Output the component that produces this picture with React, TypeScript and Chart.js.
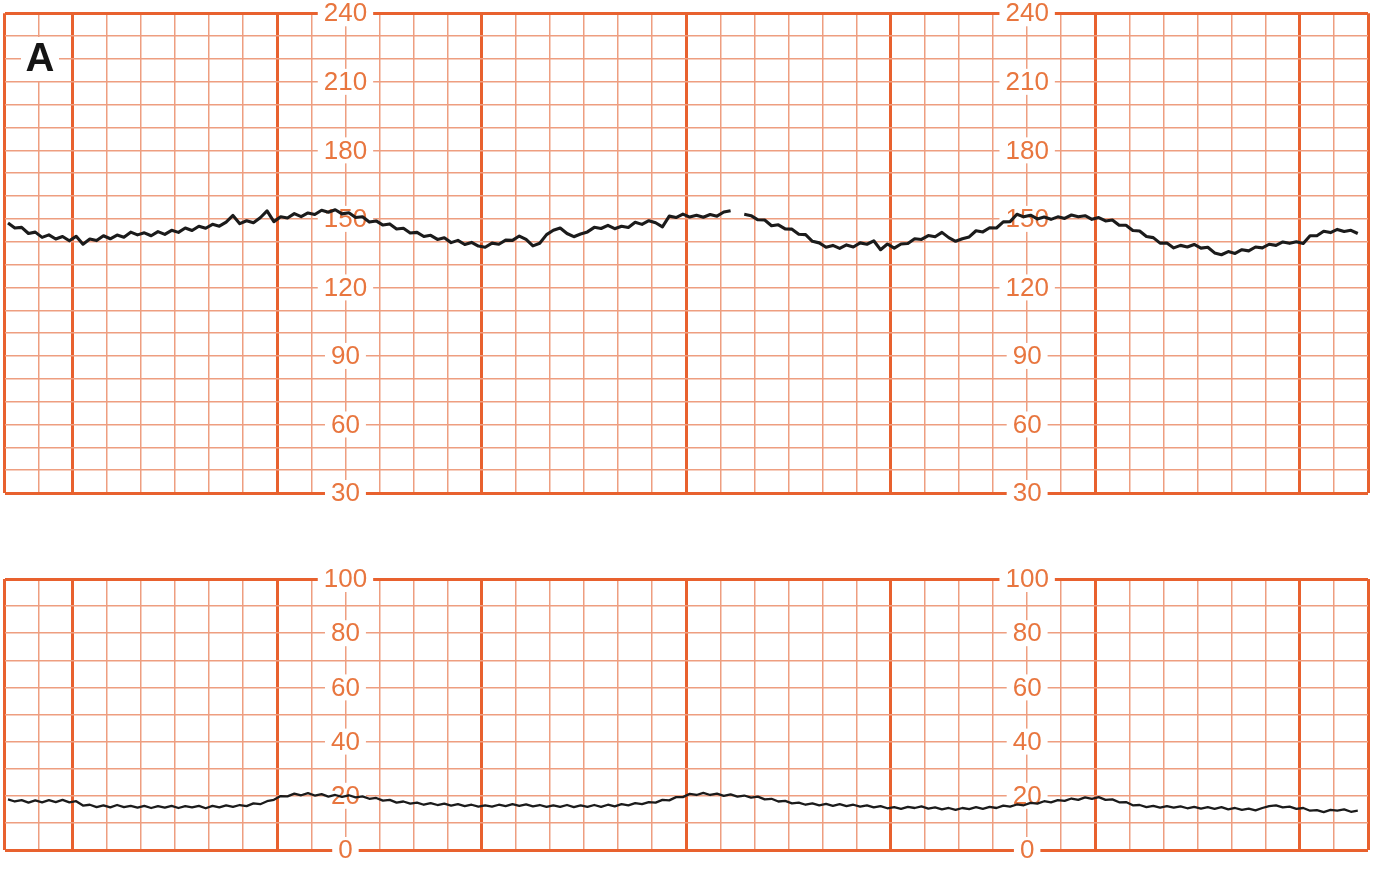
import React, { useEffect, useRef } from "react";
import { Chart, registerables } from "chart.js";

Chart.register(...registerables);

// time axis in seconds; minor grid every 10 s, major every 60 s (offset 20 s)
const TIME_MIN = 0;
const TIME_MAX = 400;
const MINOR_STEP = 10;
const MAJOR_EVERY = 60;
const MAJOR_OFFSET = 20;

const SAMPLE_START = 1;
const SAMPLE_STEP = 2;

// Fetal heart rate (bpm), one sample every 2 s; null = signal loss
const FHR_VALUES: (number | null)[] = [
  148.2, 146.0, 146.3, 143.6, 144.2, 141.9, 143.0, 141.2, 142.3, 140.4,
  142.4, 138.9, 141.2, 140.5, 142.6, 141.3, 142.9, 142.0, 144.2, 143.0,
  143.9, 142.6, 144.4, 143.2, 145.0, 144.1, 146.0, 144.9, 146.8, 145.9,
  147.6, 146.8, 148.6, 151.5, 147.9, 149.2, 148.3, 150.5, 153.5, 148.8,
  150.9, 150.4, 152.3, 151.0, 152.6, 151.9, 153.8, 152.9, 154.0, 152.2,
  152.7, 150.6, 150.9, 148.6, 149.1, 147.3, 147.8, 145.6, 145.9, 143.8,
  144.1, 142.3, 142.8, 141.0, 141.7, 139.6, 140.6, 138.8, 139.7, 138.1,
  137.6, 139.4, 138.9, 140.7, 140.6, 142.5, 141.0, 138.2, 139.3, 143.1,
  145.0, 146.0, 143.6, 142.2, 143.4, 144.3, 146.3, 145.8, 147.2, 145.7,
  146.8, 146.2, 148.5, 147.6, 149.2, 148.3, 146.5, 151.2, 150.6, 152.1,
  150.8, 151.6, 150.7, 151.9, 151.2, 153.0, 153.6, null, 152.0, 151.4,
  149.6, 149.5, 147.0, 147.4, 145.6, 145.5, 143.3, 143.1, 140.2, 139.5,
  137.6, 138.4, 137.1, 138.6, 137.7, 139.5, 138.9, 140.4, 136.5, 139.0,
  137.2, 139.0, 139.2, 141.3, 141.0, 142.7, 142.2, 144.1, 141.8, 140.2,
  141.3, 142.1, 144.8, 144.3, 146.1, 146.0, 148.7, 148.8, 152.0, 150.9,
  151.6, 150.0, 150.8, 149.8, 150.9, 150.2, 151.7, 150.9, 151.4, 149.8,
  150.6, 149.1, 149.5, 147.2, 147.2, 144.9, 144.7, 142.3, 141.8, 139.4,
  139.4, 137.3, 138.4, 137.7, 138.8, 137.2, 137.6, 135.1, 134.3, 135.7,
  134.9, 136.5, 136.0, 137.7, 137.3, 138.9, 138.4, 139.9, 139.3, 140.0,
  139.2, 142.6, 142.6, 144.6, 144.0, 145.4, 144.5, 145.0, 143.6,
];

// Uterine activity (mmHg), one sample every 2 s
const UC_VALUES: number[] = [
  18.7, 17.9, 18.4, 17.5, 18.3, 17.6, 18.4, 17.7, 18.5, 17.6,
  18.0, 16.4, 16.7, 15.8, 16.5, 15.7, 16.6, 15.8, 16.3, 15.6,
  16.3, 15.5, 16.2, 15.6, 16.3, 15.5, 16.2, 15.7, 16.3, 15.4,
  16.3, 15.7, 16.5, 15.9, 16.6, 16.2, 17.2, 16.9, 18.0, 18.5,
  19.9, 19.8, 20.8, 20.2, 21.0, 20.1, 20.6, 19.7, 20.3, 19.6,
  20.2, 19.4, 19.8, 18.9, 19.2, 18.2, 18.5, 17.5, 17.9, 17.1,
  17.5, 16.7, 17.3, 16.6, 17.1, 16.4, 16.9, 16.2, 16.7, 16.0,
  16.5, 16.0, 16.7, 16.2, 16.9, 16.3, 16.8, 16.1, 16.6, 15.9,
  16.5, 15.9, 16.6, 15.8, 16.5, 15.9, 16.6, 15.9, 16.7, 16.1,
  16.9, 16.5, 17.3, 16.9, 17.7, 17.5, 18.5, 18.3, 19.5, 19.5,
  20.7, 20.3, 21.1, 20.3, 20.8, 20.0, 20.5, 19.7, 20.1, 19.3,
  19.7, 18.7, 18.9, 17.9, 18.1, 17.2, 17.5, 16.7, 17.2, 16.5,
  17.0, 16.3, 16.9, 16.2, 16.7, 16.0, 16.5, 15.7, 16.2, 15.4,
  15.8, 15.2, 15.9, 15.5, 16.1, 15.3, 15.7, 15.0, 15.5, 14.8,
  15.5, 15.1, 15.8, 15.2, 15.9, 15.5, 16.4, 16.0, 16.8, 16.5,
  17.4, 17.1, 18.0, 17.6, 18.4, 18.1, 19.0, 18.5, 19.4, 18.9,
  19.5, 18.5, 18.7, 17.6, 17.7, 16.5, 16.6, 15.8, 16.3, 15.6,
  16.2, 15.6, 16.1, 15.4, 15.9, 15.3, 15.8, 15.2, 15.8, 15.0,
  15.5, 14.8, 15.3, 14.6, 15.5, 16.2, 16.5, 15.7, 16.0, 15.2,
  15.5, 14.5, 14.7, 14.0, 14.8, 14.5, 15.0, 14.1, 14.5,
];

const FHR_MIN = 30;
const FHR_MAX = 240;
const FHR_TICK_LABELS = [30, 60, 90, 120, 150, 180, 210, 240];
const UC_MIN = 0;
const UC_MAX = 100;
const UC_TICK_LABELS = [0, 20, 40, 60, 80, 100];
const LABEL_COLUMNS = [100, 300]; // seconds where the scale numbers are printed
const PANEL_LETTER = "A";

const MAJOR_COLOR = "#E8612E";
const MINOR_COLOR = "#EE9E80";
const LABEL_COLOR = "#E8763F";
const TRACE_COLOR = "#1b1b1b";

const isMajorTime = (v: number) =>
  v === TIME_MIN || v === TIME_MAX || (v - MAJOR_OFFSET) % MAJOR_EVERY === 0;

function makeLabelPlugin(values: number[], letter: string | null) {
  return {
    id: "midLabels",
    beforeDatasetsDraw(chart: any) {
      const { ctx } = chart;
      const xs = chart.scales.x;
      const ys = chart.scales.y;
      ctx.save();
      ctx.font = '26px "Liberation Sans", Arial, sans-serif';
      ctx.textAlign = "center";
      ctx.textBaseline = "middle";
      for (const col of LABEL_COLUMNS) {
        const px = xs.getPixelForValue(col);
        for (const v of values) {
          const py = ys.getPixelForValue(v);
          const label = String(v);
          const w = ctx.measureText(label).width + 12;
          ctx.fillStyle = "#ffffff";
          ctx.fillRect(px - w / 2, py - 13, w, 26);
          ctx.fillStyle = LABEL_COLOR;
          ctx.fillText(label, px, py + 1);
        }
      }
      if (letter) {
        ctx.font = 'bold 40px "Liberation Sans", Arial, sans-serif';
        const cx = 40;
        const cy = 59;
        ctx.fillStyle = "#ffffff";
        ctx.fillRect(cx - 19, cy - 22, 38, 44);
        ctx.fillStyle = "#151515";
        ctx.fillText(letter, cx, cy + 1);
      }
      ctx.restore();
    },
  };
}

function makeConfig(
  values: (number | null)[],
  yMin: number,
  yMax: number,
  labels: number[],
  letter: string | null,
  padding: { left: number; right: number; top: number; bottom: number },
  lineWidth: number
): any {
  return {
    type: "line",
    data: {
      datasets: [
        {
          data: values.map((v, i) => ({ x: SAMPLE_START + i * SAMPLE_STEP, y: v })),
          borderColor: TRACE_COLOR,
          borderWidth: lineWidth,
          pointRadius: 0,
          tension: 0,
          spanGaps: false,
          borderJoinStyle: "round",
          fill: false,
        },
      ],
    },
    options: {
      animation: false,
      responsive: false,
      maintainAspectRatio: false,
      layout: { padding },
      plugins: { legend: { display: false }, tooltip: { enabled: false } },
      scales: {
        x: {
          type: "linear",
          min: TIME_MIN,
          max: TIME_MAX,
          ticks: { display: false, stepSize: MINOR_STEP },
          border: { display: false },
          grid: {
            drawTicks: false,
            color: (c: any) => (isMajorTime(c.tick.value) ? MAJOR_COLOR : MINOR_COLOR),
            lineWidth: (c: any) => (isMajorTime(c.tick.value) ? 3 : 1.5),
          },
        },
        y: {
          type: "linear",
          min: yMin,
          max: yMax,
          ticks: { display: false, stepSize: 10 },
          border: { display: false },
          grid: {
            drawTicks: false,
            color: (c: any) =>
              c.tick.value === yMin || c.tick.value === yMax ? MAJOR_COLOR : MINOR_COLOR,
            lineWidth: (c: any) =>
              c.tick.value === yMin || c.tick.value === yMax ? 3 : 1.5,
          },
        },
      },
    },
    plugins: [makeLabelPlugin(labels, letter)],
  };
}

export default function App() {
  const topRef = useRef<HTMLCanvasElement | null>(null);
  const botRef = useRef<HTMLCanvasElement | null>(null);

  useEffect(() => {
    const top = new Chart(
      topRef.current as HTMLCanvasElement,
      makeConfig(FHR_VALUES, FHR_MIN, FHR_MAX, FHR_TICK_LABELS, PANEL_LETTER,
        { left: 4.6, right: 5, top: 13.3, bottom: 17 }, 3.1)
    );
    const bot = new Chart(
      botRef.current as HTMLCanvasElement,
      makeConfig(UC_VALUES, UC_MIN, UC_MAX, UC_TICK_LABELS, null,
        { left: 4.6, right: 5, top: 19, bottom: 28 }, 2.3)
    );
    return () => {
      top.destroy();
      bot.destroy();
    };
  }, []);

  return (
    <div style={{ position: "absolute", left: 0, top: 0, width: 1373, height: 878, background: "#fff" }}>
      <canvas
        ref={topRef}
        width={1373}
        height={510}
        style={{ position: "absolute", left: 0, top: 0, width: 1373, height: 510 }}
      />
      <canvas
        ref={botRef}
        width={1373}
        height={318}
        style={{ position: "absolute", left: 0, top: 560, width: 1373, height: 318 }}
      />
    </div>
  );
}
